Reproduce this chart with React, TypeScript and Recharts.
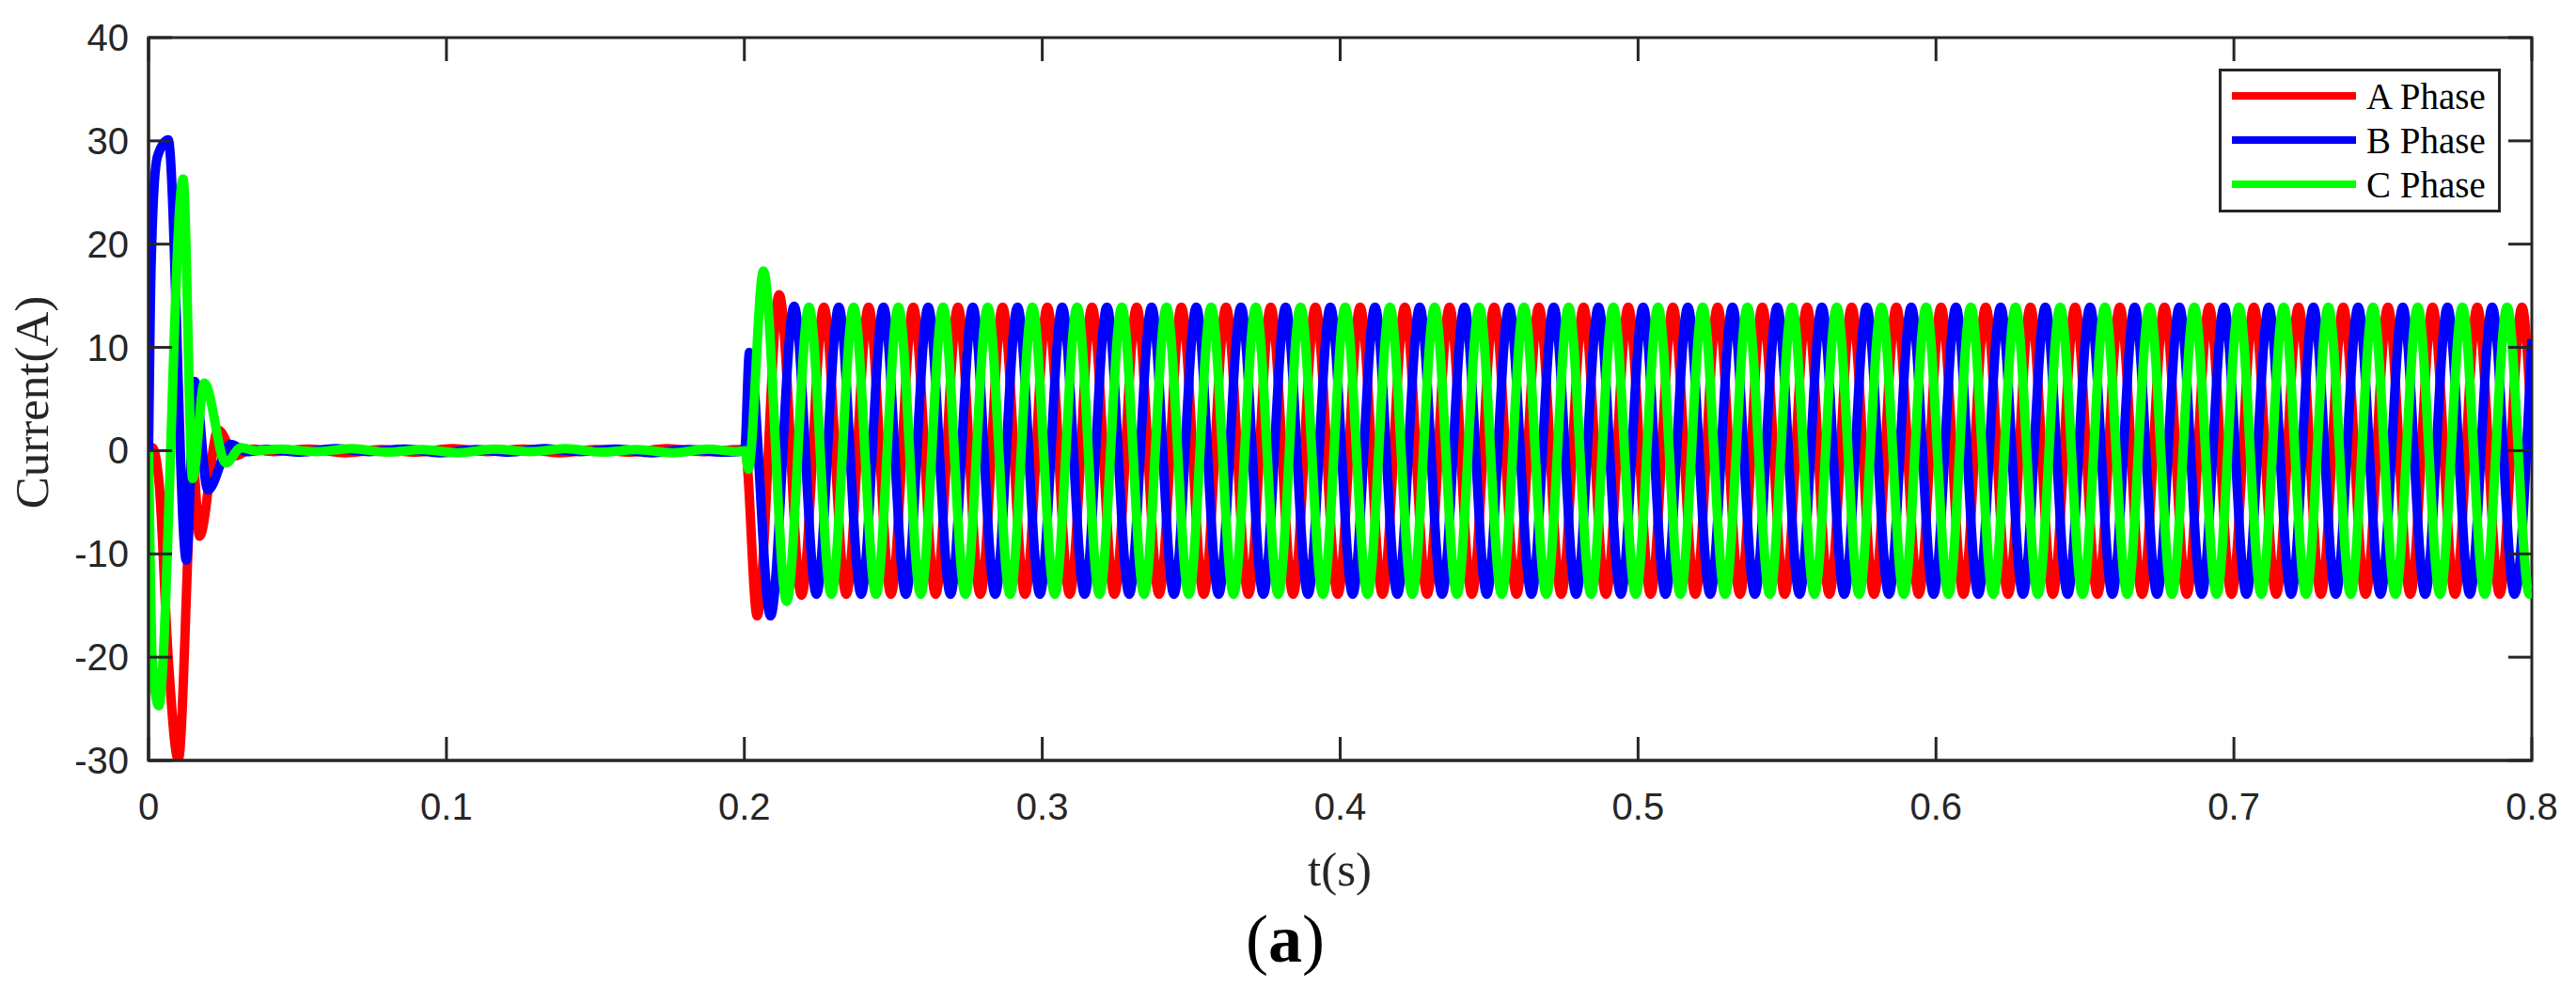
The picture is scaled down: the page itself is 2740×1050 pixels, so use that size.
import React from "react";
import { LineChart, Line, XAxis, YAxis, ReferenceArea, Legend } from "recharts";

// ---------- data ----------
const xTicks = [0, 0.1, 0.2, 0.3, 0.4, 0.5, 0.6, 0.7, 0.8];
const xTickLabels = ["0", "0.1", "0.2", "0.3", "0.4", "0.5", "0.6", "0.7", "0.8"];
const yTicks = [-30, -20, -10, 0, 10, 20, 30, 40];
const yTickLabels = ["-30", "-20", "-10", "0", "10", "20", "30", "40"];
const seriesNames = ["A Phase", "B Phase", "C Phase"];

// [time (s), current (A)] : turning points
const phaseA: [number, number][] = [
  [0, 0], [0.0012, 0.3], [0.0035, -3], [0.0066, -20], [0.01, -29.9], [0.015, -1.5], [0.0171, -8.3], [0.0234, 2.0], [0.0292, -0.5], [0.0345, 0.15],
  [0.042, -0.1], [0.054, 0.15], [0.066, -0.2], [0.078, 0.1], [0.09, -0.15], [0.102, 0.2], [0.114, -0.1], [0.126, 0.15], [0.138, -0.2], [0.15, 0.1],
  [0.162, -0.15], [0.174, 0.2], [0.186, -0.1], [0.1985, 0.1], [0.2003, 0],
  [0.2043, -16.0], [0.2117, 15.1], [0.2192, -14.0],
  [0.2267, 13.9], [0.2342, -13.9], [0.2417, 13.9], [0.2492, -13.9], [0.2567, 13.9], [0.2642, -13.9], [0.2717, 13.9], [0.2792, -13.9],
  [0.2867, 13.9], [0.2942, -13.9], [0.3017, 13.9], [0.3092, -13.9], [0.3167, 13.9], [0.3242, -13.9], [0.3317, 13.9], [0.3392, -13.9],
  [0.3467, 13.9], [0.3542, -13.9], [0.3617, 13.9], [0.3692, -13.9], [0.3767, 13.9], [0.3842, -13.9], [0.3917, 13.9], [0.3992, -13.9],
  [0.4067, 13.9], [0.4142, -13.9], [0.4217, 13.9], [0.4292, -13.9], [0.4367, 13.9], [0.4442, -13.9], [0.4517, 13.9], [0.4592, -13.9],
  [0.4667, 13.9], [0.4742, -13.9], [0.4817, 13.9], [0.4892, -13.9], [0.4967, 13.9], [0.5042, -13.9], [0.5117, 13.9], [0.5192, -13.9],
  [0.5267, 13.9], [0.5342, -13.9], [0.5417, 13.9], [0.5492, -13.9], [0.5567, 13.9], [0.5642, -13.9], [0.5717, 13.9], [0.5792, -13.9],
  [0.5867, 13.9], [0.5942, -13.9], [0.6017, 13.9], [0.6092, -13.9], [0.6167, 13.9], [0.6242, -13.9], [0.6317, 13.9], [0.6392, -13.9],
  [0.6467, 13.9], [0.6542, -13.9], [0.6617, 13.9], [0.6692, -13.9], [0.6767, 13.9], [0.6842, -13.9], [0.6917, 13.9], [0.6992, -13.9],
  [0.7067, 13.9], [0.7142, -13.9], [0.7217, 13.9], [0.7292, -13.9], [0.7367, 13.9], [0.7442, -13.9], [0.7517, 13.9], [0.7592, -13.9],
  [0.7667, 13.9], [0.7742, -13.9], [0.7817, 13.9], [0.7892, -13.9], [0.7967, 13.9], [0.8, 1.8],
];

const phaseB: [number, number][] = [
  [0, 0], [0.0006, 14], [0.0015, 23.5], [0.003, 28.5], [0.0066, 30.1], [0.0127, -10.6], [0.0155, 6.7], [0.0199, -3.8], [0.0276, 0.6], [0.033, -0.1],
  [0.04, 0.12], [0.051, -0.15], [0.063, 0.2], [0.074, -0.1], [0.086, 0.15], [0.098, -0.2], [0.11, 0.1], [0.121, -0.15], [0.133, 0.2], [0.145, -0.1],
  [0.157, 0.15], [0.169, -0.2], [0.181, 0.1], [0.193, -0.15], [0.2001, 0],
  [0.2017, 9.5], [0.2088, -16.0], [0.2167, 14.0],
  [0.2242, -13.9], [0.2317, 13.9], [0.2392, -13.9], [0.2467, 13.9], [0.2542, -13.9], [0.2617, 13.9], [0.2692, -13.9], [0.2767, 13.9],
  [0.2842, -13.9], [0.2917, 13.9], [0.2992, -13.9], [0.3067, 13.9], [0.3142, -13.9], [0.3217, 13.9], [0.3292, -13.9], [0.3367, 13.9],
  [0.3442, -13.9], [0.3517, 13.9], [0.3592, -13.9], [0.3667, 13.9], [0.3742, -13.9], [0.3817, 13.9], [0.3892, -13.9], [0.3967, 13.9],
  [0.4042, -13.9], [0.4117, 13.9], [0.4192, -13.9], [0.4267, 13.9], [0.4342, -13.9], [0.4417, 13.9], [0.4492, -13.9], [0.4567, 13.9],
  [0.4642, -13.9], [0.4717, 13.9], [0.4792, -13.9], [0.4867, 13.9], [0.4942, -13.9], [0.5017, 13.9], [0.5092, -13.9], [0.5167, 13.9],
  [0.5242, -13.9], [0.5317, 13.9], [0.5392, -13.9], [0.5467, 13.9], [0.5542, -13.9], [0.5617, 13.9], [0.5692, -13.9], [0.5767, 13.9],
  [0.5842, -13.9], [0.5917, 13.9], [0.5992, -13.9], [0.6067, 13.9], [0.6142, -13.9], [0.6217, 13.9], [0.6292, -13.9], [0.6367, 13.9],
  [0.6442, -13.9], [0.6517, 13.9], [0.6592, -13.9], [0.6667, 13.9], [0.6742, -13.9], [0.6817, 13.9], [0.6892, -13.9], [0.6967, 13.9],
  [0.7042, -13.9], [0.7117, 13.9], [0.7192, -13.9], [0.7267, 13.9], [0.7342, -13.9], [0.7417, 13.9], [0.7492, -13.9], [0.7567, 13.9],
  [0.7642, -13.9], [0.7717, 13.9], [0.7792, -13.9], [0.7867, 13.9], [0.7942, -13.9], [0.8, 10.8],
];

const phaseC: [number, number][] = [
  [0, 0], [0.0006, -12], [0.0012, -20], [0.0034, -24.7], [0.0116, 26.3], [0.0148, -2.7], [0.0187, 6.55], [0.026, -1.2], [0.031, 0.3], [0.036, 0],
  [0.044, 0.15], [0.056, -0.1], [0.068, 0.2], [0.08, -0.15], [0.092, 0.1], [0.104, -0.2], [0.116, 0.15], [0.128, -0.1], [0.14, 0.2], [0.152, -0.15],
  [0.164, 0.1], [0.176, -0.2], [0.188, 0.15], [0.1975, -0.1], [0.2003, 0],
  [0.2013, -1.8], [0.2064, 17.4], [0.2142, -14.6],
  [0.2217, 13.9], [0.2292, -13.9], [0.2367, 13.9], [0.2442, -13.9], [0.2517, 13.9], [0.2592, -13.9], [0.2667, 13.9], [0.2742, -13.9],
  [0.2817, 13.9], [0.2892, -13.9], [0.2967, 13.9], [0.3042, -13.9], [0.3117, 13.9], [0.3192, -13.9], [0.3267, 13.9], [0.3342, -13.9],
  [0.3417, 13.9], [0.3492, -13.9], [0.3567, 13.9], [0.3642, -13.9], [0.3717, 13.9], [0.3792, -13.9], [0.3867, 13.9], [0.3942, -13.9],
  [0.4017, 13.9], [0.4092, -13.9], [0.4167, 13.9], [0.4242, -13.9], [0.4317, 13.9], [0.4392, -13.9], [0.4467, 13.9], [0.4542, -13.9],
  [0.4617, 13.9], [0.4692, -13.9], [0.4767, 13.9], [0.4842, -13.9], [0.4917, 13.9], [0.4992, -13.9], [0.5067, 13.9], [0.5142, -13.9],
  [0.5217, 13.9], [0.5292, -13.9], [0.5367, 13.9], [0.5442, -13.9], [0.5517, 13.9], [0.5592, -13.9], [0.5667, 13.9], [0.5742, -13.9],
  [0.5817, 13.9], [0.5892, -13.9], [0.5967, 13.9], [0.6042, -13.9], [0.6117, 13.9], [0.6192, -13.9], [0.6267, 13.9], [0.6342, -13.9],
  [0.6417, 13.9], [0.6492, -13.9], [0.6567, 13.9], [0.6642, -13.9], [0.6717, 13.9], [0.6792, -13.9], [0.6867, 13.9], [0.6942, -13.9],
  [0.7017, 13.9], [0.7092, -13.9], [0.7167, 13.9], [0.7242, -13.9], [0.7317, 13.9], [0.7392, -13.9], [0.7467, 13.9], [0.7542, -13.9],
  [0.7617, 13.9], [0.7692, -13.9], [0.7767, 13.9], [0.7842, -13.9], [0.7917, 13.9], [0.7992, -13.9], [0.8, -13.6],
];

// ---------- styling / layout ----------
const W = 2740;
const H = 1050;
const PLOT_LEFT = 158;
const PLOT_RIGHT = 2693;
const PLOT_TOP = 40;
const PLOT_BOTTOM = 809;
const TICK_LEN = 25;
const AXIS = "#262626";
const COLORS = ["#ff0000", "#0000ff", "#00ff00"];
const LINE_W = 10;
const SANS = "'Liberation Sans', Arial, Helvetica, sans-serif";
const SERIF = "'Liberation Serif', 'Times New Roman', Times, serif";

const toRows = (pairs: [number, number][]) => pairs.map(([t, v]) => ({ t, v }));
const rowsA = toRows(phaseA);
const rowsB = toRows(phaseB);
const rowsC = toRows(phaseC);

const XTick = (props: any) => {
  const { x, payload } = props;
  const i = xTicks.indexOf(payload.value);
  return (
    <g>
      <line x1={x} x2={x} y1={PLOT_BOTTOM} y2={PLOT_BOTTOM - TICK_LEN} stroke={AXIS} strokeWidth={3} />
      <line x1={x} x2={x} y1={PLOT_TOP} y2={PLOT_TOP + TICK_LEN} stroke={AXIS} strokeWidth={3} />
      <text x={x} y={872} textAnchor="middle" fontFamily={SANS} fontSize={40} fill={AXIS}>
        {i >= 0 ? xTickLabels[i] : String(payload.value)}
      </text>
    </g>
  );
};

const YTick = (props: any) => {
  const { y, payload } = props;
  const i = yTicks.indexOf(payload.value);
  return (
    <g>
      <line x1={PLOT_LEFT} x2={PLOT_LEFT + TICK_LEN} y1={y} y2={y} stroke={AXIS} strokeWidth={3} />
      <line x1={PLOT_RIGHT - TICK_LEN} x2={PLOT_RIGHT} y1={y} y2={y} stroke={AXIS} strokeWidth={3} />
      <text x={137} y={y + 14} textAnchor="end" fontFamily={SANS} fontSize={40} fill={AXIS}>
        {i >= 0 ? yTickLabels[i] : String(payload.value)}
      </text>
    </g>
  );
};

const LegendBox = (props: any) => {
  const payload = (props.payload || []) as any[];
  return (
    <svg width={300} height={153} style={{ display: "block" }}>
      <rect x={1.5} y={1.5} width={297} height={150} fill="#ffffff" stroke={AXIS} strokeWidth={3} />
      {payload.map((p, i) => (
        <g key={i}>
          <line x1={14} x2={146} y1={29 + 47 * i} y2={29 + 47 * i} stroke={p.color} strokeWidth={8} />
          <text x={157} y={43 + 47 * i} fontFamily={SERIF} fontSize={39} fill="#000000">
            {p.value}
          </text>
        </g>
      ))}
    </svg>
  );
};

export default function App() {
  return (
    <div style={{ position: "absolute", left: 0, top: 0, width: W, height: H, background: "#ffffff" }}>
      <LineChart
        width={W}
        height={H}
        margin={{ top: PLOT_TOP, right: W - PLOT_RIGHT, bottom: H - PLOT_BOTTOM - 60, left: 0 }}
      >
        <XAxis
          type="number"
          dataKey="t"
          domain={[0, 0.8]}
          ticks={xTicks}
          interval={0}
          allowDataOverflow
          height={60}
          tickSize={0}
          tickLine={false}
          axisLine={{ stroke: AXIS, strokeWidth: 3 }}
          tick={XTick}
        />
        <YAxis
          type="number"
          domain={[-30, 40]}
          ticks={yTicks}
          interval={0}
          allowDataOverflow
          width={PLOT_LEFT}
          tickSize={0}
          tickLine={false}
          axisLine={{ stroke: AXIS, strokeWidth: 3 }}
          tick={YTick}
        />
        <ReferenceArea x1={0} x2={0.8} y1={-30} y2={40} fill="none" fillOpacity={0} stroke={AXIS} strokeWidth={3} />
        <Line data={rowsA} dataKey="v" name={seriesNames[0]} type="monotone" stroke={COLORS[0]} strokeWidth={LINE_W} dot={false} activeDot={false} isAnimationActive={false} />
        <Line data={rowsB} dataKey="v" name={seriesNames[1]} type="monotone" stroke={COLORS[1]} strokeWidth={LINE_W} dot={false} activeDot={false} isAnimationActive={false} />
        <Line data={rowsC} dataKey="v" name={seriesNames[2]} type="monotone" stroke={COLORS[2]} strokeWidth={LINE_W} dot={false} activeDot={false} isAnimationActive={false} />
        <Legend
          layout="horizontal"
          verticalAlign="middle"
          align="center"
          content={LegendBox}
          wrapperStyle={{ left: 2360, top: 73, width: 300, height: 153, margin: 0 }}
        />
      </LineChart>
      <svg width={W} height={H} style={{ position: "absolute", left: 0, top: 0, pointerEvents: "none" }}>
        <text x={51} y={428} transform="rotate(-90, 51, 428)" textAnchor="middle" fontFamily={SERIF} fontSize={51} fill={AXIS}>
          Current(A)
        </text>
        <text x={1425} y={942} textAnchor="middle" fontFamily={SERIF} fontSize={51} fill={AXIS}>
          t(s)
        </text>
        <text x={1367} y={1023} textAnchor="middle" fontFamily={SERIF} fontSize={72} fill="#000000">
          (<tspan fontWeight="bold">a</tspan>)
        </text>
      </svg>
    </div>
  );
}
